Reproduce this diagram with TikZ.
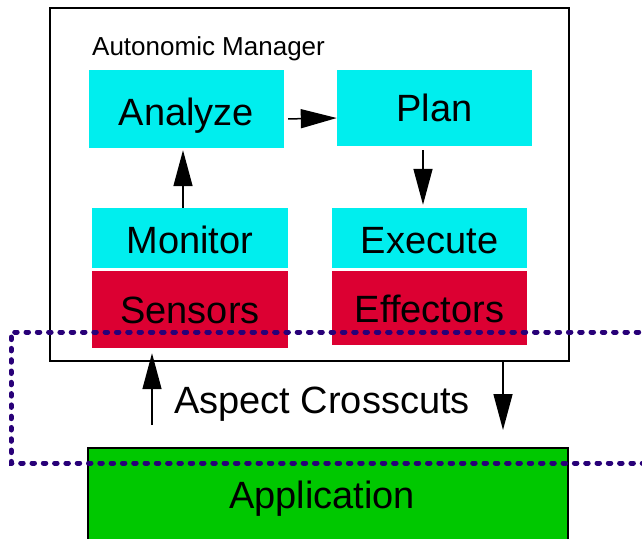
\documentclass[tikz,border=0pt]{standalone}
\usepackage{fontspec}
\setmainfont{Liberation Sans}
\usetikzlibrary{arrows.meta}

\definecolor{mapecyan}{RGB}{0,238,238}
\definecolor{touchred}{RGB}{220,0,50}
\definecolor{appgreen}{RGB}{0,200,0}
\definecolor{aspectline}{RGB}{40,0,120}

\tikzset{
  part/.style={draw=none, inner sep=0pt, anchor=base, font=\fontsize{38}{45}\selectfont},
  loopbox/.style={part, fill=mapecyan},
  touchbox/.style={part, fill=touchred},
  arr/.style={line width=1.5pt, -{Triangle[length=36pt,width=19pt]}},
  dotline/.style={draw=aspectline, line width=5pt, line cap=round,
    dash pattern=on 2.5pt off 8.8pt},
}

\begin{document}
\begin{tikzpicture}[x=1pt, y=-1pt]
  \clip (0,0) rectangle (642,538);
  \fill[white] (0,0) rectangle (642,538);

  % manager frame
  \node[draw, line width=1.5pt, minimum width=519pt, minimum height=353pt,
        inner sep=0pt] (mgr) at (309.5,184.5) {};
  \node[anchor=base west, inner sep=0pt, font=\fontsize{26}{31}\selectfont]
        (title) at (92,55) {Autonomic Manager};

  % MAPE loop (positioned on the text baseline; height/depth give the box)
  \node[loopbox, minimum width=195pt, text height=55pt, text depth=23pt]
        (ana) at (186.5,125) {Analyze};
  \node[loopbox, minimum width=195pt, text height=51pt, text depth=25pt]
        (plan) at (434.5,121) {Plan};
  \node[loopbox, minimum width=196pt, text height=45pt, text depth=15pt]
        (mon) at (190,253) {Monitor};
  \node[loopbox, minimum width=195pt, text height=45pt, text depth=15pt]
        (exe) at (429.5,253) {Execute};

  % touchpoints
  \node[touchbox, minimum width=196pt, text height=52pt, text depth=25pt]
        (sen) at (190,323) {Sensors};
  \node[touchbox, minimum width=195pt, text height=51pt, text depth=23pt]
        (eff) at (429.5,322) {Effectors};

  % managed resource
  \node[part, draw, line width=2pt, fill=appgreen, minimum width=480pt,
        text height=60pt, text depth=40pt] (app) at (328,508)
        {Application\hspace*{12pt}};

  \node[part] (asp) at (322,413) {Aspect Crosscuts};

  % internal flow
  \draw[arr] ([xshift=-7pt]mon.north) -- ([xshift=-3.5pt,yshift=-2pt]ana.south);
  \draw[arr, shorten <=4pt] ([yshift=-10pt]ana.east) -- ([yshift=-10pt]plan.west);
  \draw[arr, shorten <=4pt, shorten >=3pt] ([xshift=-11.5pt]plan.south) -- ([xshift=-6.5pt]exe.north);

  % resource link
  \coordinate (upfoot) at (152,425);
  \coordinate (downtip) at (503,430);
  \draw[arr, shorten >=5pt] (upfoot) -- (sen.south -| upfoot);
  \draw[arr] (mgr.south -| downtip) -- (downtip);

  % aspect boundary
  \draw[dotline] (650,332) -- (11,332) -- (11,463) -- (650,463);
\end{tikzpicture}
\end{document}
